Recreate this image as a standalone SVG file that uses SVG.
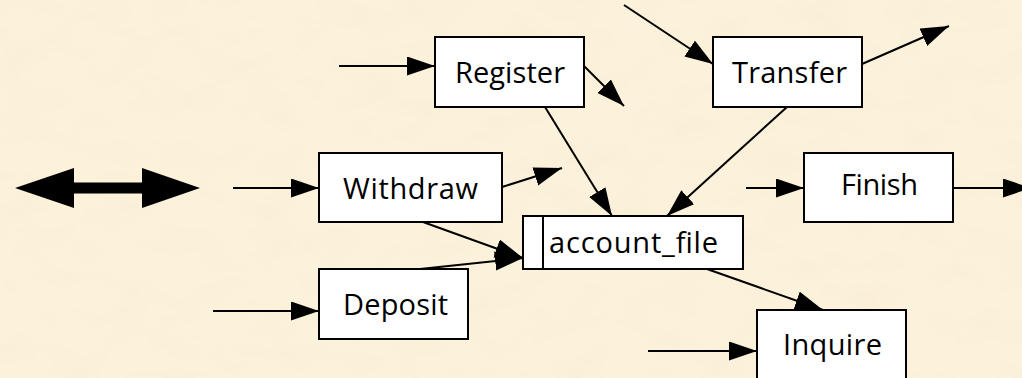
<svg xmlns="http://www.w3.org/2000/svg" width="1022" height="378" viewBox="0 0 1022 378">
  <defs>
    <filter id="paper" x="0" y="0" width="100%" height="100%">
      <feTurbulence type="fractalNoise" baseFrequency="0.02 0.035" numOctaves="4" seed="7"/>
      <feColorMatrix type="matrix" values="0 0 0 0 0.94  0 0 0 0 0.85  0 0 0 0 0.66  1.4 0 0 0 -0.6"/>
    </filter>
    <marker id="head" markerUnits="userSpaceOnUse" markerWidth="30" markerHeight="20" refX="28" refY="9.5" orient="auto">
      <path d="M0,0 L28,9.5 L0,19 Z" fill="#000"/>
    </marker>
    <style>
      .box { fill: #fff; stroke: #000; stroke-width: 2; }
      .lbl { font-family: "Open Sans", "Liberation Sans", sans-serif; font-size: 29px; fill: #000; }
      .conn line { stroke: #000; stroke-width: 2; marker-end: url(#head); }
    </style>
  </defs>

  <!-- parchment background -->
  <rect width="1022" height="378" fill="#FCF1DA"/>
  <rect width="1022" height="378" filter="url(#paper)"/>

  <!-- double-headed block arrow -->
  <polygon id="double-arrow" points="15,188 74,168 74,182.5 142,182.5 142,168 200,188 142,208 142,193.5 74,193.5 74,208" fill="#000"/>

  <g id="register">
    <rect class="box" x="435" y="37" width="149" height="70"/>
    <text class="lbl" x="510" y="83" text-anchor="middle" textLength="110" lengthAdjust="spacing">Register</text>
  </g>
  <g id="transfer">
    <rect class="box" x="713" y="37" width="149" height="70"/>
    <text class="lbl" x="789.5" y="83" text-anchor="middle" textLength="115" lengthAdjust="spacing">Transfer</text>
  </g>
  <g id="withdraw">
    <rect class="box" x="319" y="153" width="183" height="69"/>
    <text class="lbl" x="410.5" y="199" text-anchor="middle" textLength="135" lengthAdjust="spacing">Withdraw</text>
  </g>
  <g id="finish">
    <rect class="box" x="804" y="153" width="149" height="69"/>
    <text class="lbl" x="879.5" y="195" text-anchor="middle" textLength="77" lengthAdjust="spacing">Finish</text>
  </g>
  <g id="account_file">
    <rect class="box" x="523" y="216" width="220" height="53"/>
    <line x1="543" y1="216" x2="543" y2="269" stroke="#000" stroke-width="2"/>
    <text class="lbl" x="549" y="253" textLength="169" lengthAdjust="spacing">account_file</text>
  </g>
  <g id="deposit">
    <rect class="box" x="319" y="269" width="149" height="70"/>
    <text class="lbl" x="395.5" y="315" text-anchor="middle" textLength="105" lengthAdjust="spacing">Deposit</text>
  </g>
  <g id="inquire">
    <rect class="box" x="757" y="310" width="149" height="72"/>
    <text class="lbl" x="832.5" y="355" text-anchor="middle" textLength="99" lengthAdjust="spacing">Inquire</text>
  </g>

  <g id="connectors" class="conn">
    <line x1="339" y1="66" x2="435" y2="66"/>
    <line x1="584" y1="66" x2="624" y2="106"/>
    <line x1="624" y1="5" x2="713" y2="64"/>
    <line x1="862" y1="64" x2="949" y2="26"/>
    <line x1="233" y1="188" x2="319" y2="188"/>
    <line x1="502" y1="187" x2="562" y2="168"/>
    <line x1="545" y1="107" x2="612" y2="216"/>
    <line x1="787" y1="107" x2="667" y2="216"/>
    <line x1="423" y1="222" x2="523" y2="258"/>
    <line x1="420" y1="269" x2="523" y2="258"/>
    <line x1="746" y1="188" x2="804" y2="188"/>
    <line x1="953" y1="188" x2="1031" y2="188"/>
    <line x1="213" y1="311" x2="319" y2="311"/>
    <line x1="707" y1="269" x2="823" y2="310"/>
    <line x1="648" y1="351" x2="757" y2="351"/>
  </g>
</svg>
